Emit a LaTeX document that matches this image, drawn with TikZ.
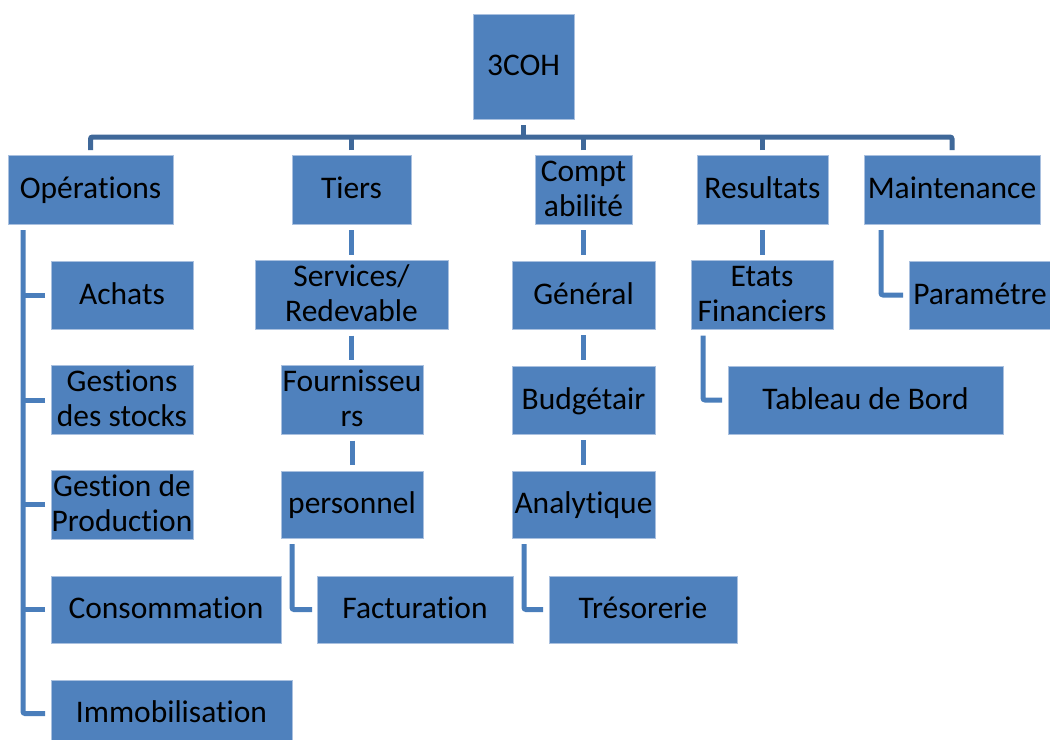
\documentclass[tikz,border=0pt]{standalone}
\usepackage{fontspec}
\setmainfont[Ligatures={NoCommon,NoContextual}]{Carlito}
\definecolor{boxfill}{HTML}{4F81BD}
\definecolor{boxline}{HTML}{A9C0DF}
\definecolor{topline}{HTML}{3F6899}
\definecolor{subline}{HTML}{4A7EBB}
\newcommand\sr{\rule[-8bp]{0pt}{34bp}}
\newcommand\bx[6]{\node[box, minimum width={(#4-#2)*1bp}, minimum height={(#5-#3)*1bp}] (#1) at ({(#2+#4)/2},{(#3+#5)/2}) {#6};}
\begin{document}
\begin{tikzpicture}[x=1bp,y=-1bp,
  box/.style={rectangle, fill=boxfill, draw=boxline, line width=1bp, inner sep=0pt, outer sep=0pt,
    align=center, text=black, font=\fontsize{31.6}{34}\selectfont},
  topc/.style={draw=topline, line width=5bp, rounded corners=2bp},
  subc/.style={draw=subline, line width=5bp, rounded corners=2bp}]
\useasboundingbox (0,0) rectangle (1050,740);
\fill[white] (0,0) rectangle (1050,740);
% boxes
\bx{root}{473}{15}{574}{119}{\sr 3COH}
\bx{ops}{8}{155}{173}{224}{\sr Opérations}
\bx{tiers}{292}{155}{411}{224}{\sr Tiers}
\bx{compt}{535}{155}{632}{224}{\sr Compt\\\sr abilité}
\bx{res}{697}{155}{828}{224}{\sr Resultats}
\bx{maint}{864}{155}{1040}{224}{\sr Maintenance}
\bx{achats}{51}{261}{193}{329}{\sr Achats}
\bx{stocks}{51}{366}{193}{434}{\sr Gestions\\\sr des stocks}
\bx{prod}{51}{471}{193}{538}{\sr Gestion de\\\sr Production}
\bx{conso}{51}{576}{281}{643}{\sr Consommation}
\bx{immo}{51}{680}{292}{747}{\sr Immobilisation}
\bx{serv}{255}{261}{448}{329}{\sr Services/\\\sr Redevable}
\bx{fourn}{281}{366}{423}{434}{\sr Fournisseu\\\sr rs}
\bx{pers}{281}{471}{423}{538}{\sr personnel}
\bx{fact}{317}{576}{513}{643}{\sr Facturation}
\bx{gen}{512}{261}{655}{329}{\sr Général}
\bx{budg}{512}{366}{655}{434}{\sr Budgétair}
\bx{analy}{512}{471}{655}{538}{\sr Analytique}
\bx{treso}{549}{576}{737}{643}{\sr Trésorerie}
\bx{etats}{691}{261}{833}{329}{\sr Etats\\\sr Financiers}
\bx{tab}{728}{366}{1003}{434}{\sr Tableau de Bord}
\bx{param}{909}{261}{1051}{329}{\sr Paramétre}
% top connector
\draw[topc] ([yshift=5bp]ops.north) |- ([yshift=18bp]maint.north) -- ([yshift=5bp]maint.north);
\foreach \n in {tiers,compt,res} \draw[topc] ([yshift=5bp]\n.north) -- ([yshift=18bp]\n.north);
\draw[topc] ([yshift=-6bp]root.south) -- ([yshift=18bp]compt.north -| root.south);
% Operations
\draw[subc] ([xshift=15bp,yshift=-6bp]ops.south west) |- ([xshift=-6bp]immo.west);
\foreach \n in {achats,stocks,prod,conso}
  \draw[subc] ([xshift=-6bp]\n.west) -- ([xshift=15bp]\n.west -| ops.west);
% Tiers chain
\draw[subc] ([yshift=-6bp]tiers.south) -- ([yshift=6bp]tiers.south |- serv.north);
\draw[subc] ([yshift=-6bp]serv.south) -- ([yshift=6bp]serv.south |- fourn.north);
\draw[subc] ([yshift=-6bp]fourn.south) -- ([yshift=6bp]fourn.south |- pers.north);
\draw[subc] ([xshift=11bp,yshift=-6bp]pers.south west) |- ([xshift=-5bp]fact.west);
% Comptabilite chain
\draw[subc] ([yshift=-6bp]compt.south) -- ([yshift=6bp]compt.south |- gen.north);
\draw[subc] ([yshift=-6bp]gen.south) -- ([yshift=6bp]gen.south |- budg.north);
\draw[subc] ([yshift=-6bp]budg.south) -- ([yshift=6bp]budg.south |- analy.north);
\draw[subc] ([xshift=12bp,yshift=-6bp]analy.south west) |- ([xshift=-6bp]treso.west);
% Resultats
\draw[subc] ([yshift=-6bp]res.south) -- ([yshift=6bp]res.south |- etats.north);
\draw[subc] ([xshift=12bp,yshift=-6bp]etats.south west) |- ([xshift=-6bp]tab.west);
% Maintenance
\draw[subc] ([xshift=17bp,yshift=-6bp]maint.south west) |- ([xshift=-6bp]param.west);
\end{tikzpicture}
\end{document}
